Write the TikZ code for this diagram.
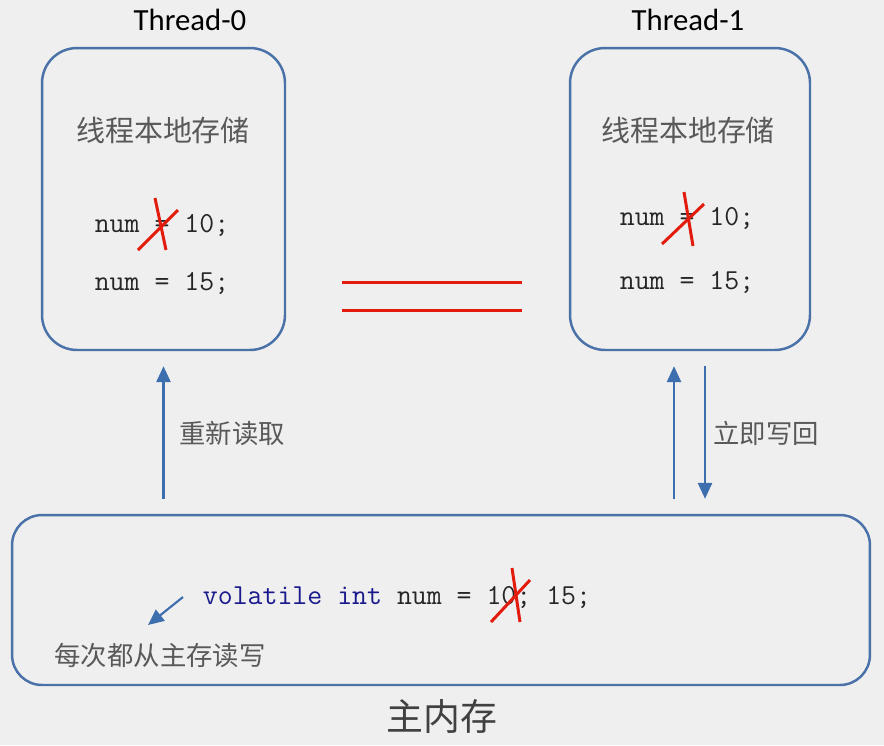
\documentclass[tikz,border=0pt]{standalone}
\usepackage{fontspec}
\setsansfont{Carlito}
\newfontfamily\cjk{Noto Sans CJK SC}
\usetikzlibrary{arrows.meta}
\definecolor{bgcol}{HTML}{EFEFEF}
\definecolor{boxblue}{HTML}{4A72A8}
\definecolor{arrowblue}{HTML}{3D6EAD}
\definecolor{crossred}{HTML}{E31B0C}
\definecolor{textgray}{HTML}{595959}
\definecolor{kwblue}{HTML}{1A1A8C}
\begin{document}
\begin{tikzpicture}[x=0.02cm,y=-0.02cm,
  membox/.style={draw=boxblue, line width=1.4pt, rounded corners=0.7cm},
  title/.style={font=\sffamily\fontsize{17.5pt}{20pt}\selectfont},
  cjklabel/.style={font=\cjk\fontsize{16.5pt}{20pt}\selectfont, text=textgray},
  smalllabel/.style={font=\cjk\fontsize{15pt}{18pt}\selectfont, text=textgray},
  code/.style={font=\ttfamily\fontsize{16.5pt}{20pt}\selectfont, text=black!85},
  flow/.style={draw=arrowblue, line width=1.2pt, -{Triangle[width=8pt,length=9pt]}},
  cross/.style={draw=crossred, line width=1.7pt}]
  \fill[bgcol] (0,0) rectangle (884,745);
  % thread boxes
  \node[membox, minimum width=4.86cm, minimum height=6.04cm] (t0) at (163.5,199) {};
  \node[membox, minimum width=4.8cm, minimum height=6.04cm] (t1) at (690,199) {};
  \node[title] (name0) at (190,20) {Thread-0};
  \node[title] (name1) at (688,20) {Thread-1};
  \node[cjklabel] (store0) at (163,130) {线程本地存储};
  \node[cjklabel] (store1) at (688,130) {线程本地存储};
  \node[code] (old0) at (162,225) {num = 10;};
  \node[code] (new0) at (162,283) {num = 15;};
  \node[code] (old1) at (687,218) {num = 10;};
  \node[code] (new1) at (687,282) {num = 15;};
  \draw[cross] (138,250) -- (178,210);
  \draw[cross] (155,198) -- (166,250);
  \draw[cross] (662,244) -- (704,204);
  \draw[cross] (684,192) -- (693,246);
  % red separator
  \draw[cross] (342,282) -- (522,282);
  \draw[cross] (342,310) -- (522,310);
  % main memory
  \node[membox, rounded corners=0.6cm, minimum width=17.16cm, minimum height=3.4cm] (main) at (441,600) {};
  \node[code] (var) at (397,597) {\textcolor{kwblue}{volatile int} num = 10; 15;};
  \draw[cross] (491,622) -- (530,580);
  \draw[cross] (512,568) -- (520,622);
  \node[smalllabel] (every) at (160,655) {每次都从主存读写};
  \coordinate (hint) at (183,597);
  \coordinate (hintend) at (148,625);
  \draw[flow] (hint) -- (hintend);
  \node[font=\cjk\fontsize{21pt}{24pt}\selectfont, text=black!75] (mainname) at (442,716) {主内存};
  % read / write
  \draw[flow] ([yshift=0.3cm]main.north -| t0.south) -- ([yshift=-0.3cm]t0.south);
  \node[smalllabel] (reread) at (232,433) {重新读取};
  \draw[flow] ([xshift=-0.32cm,yshift=0.3cm]main.north -| t1.south) -- ([xshift=-0.32cm,yshift=-0.3cm]t1.south);
  \draw[flow] ([xshift=0.3cm,yshift=-0.3cm]t1.south) -- ([xshift=0.3cm,yshift=0.3cm]main.north -| t1.south);
  \node[smalllabel] (writeback) at (766,433) {立即写回};
\end{tikzpicture}
\end{document}
